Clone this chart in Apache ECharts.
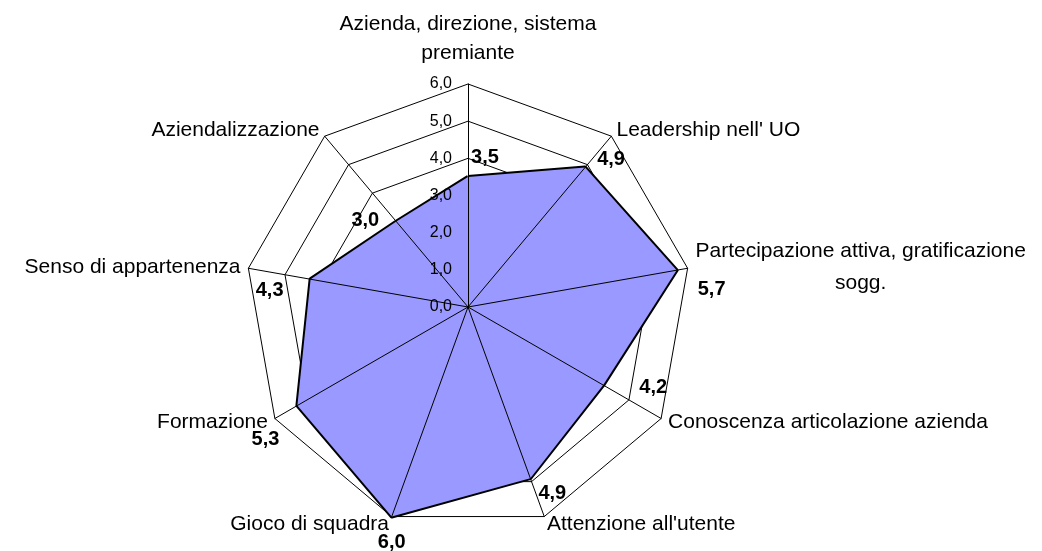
<!DOCTYPE html>
<html>
<head>
<meta charset="utf-8">
<script src="https://cdn.jsdelivr.net/npm/echarts@6/dist/echarts.min.js"></script>
<style>
html, body { margin: 0; padding: 0; background: #fff; }
#radar1 { width: 1042px; height: 551px; }
</style>
</head>
<body>
<div id="radar1"></div>
<script>
var categories = [
    'Azienda, direzione, sistema\npremiante',
    "Leadership nell' UO",
    'Partecipazione attiva, gratificazione\nsogg.',
    'Conoscenza articolazione azienda',
    "Attenzione all'utente",
    'Gioco di squadra',
    'Formazione',
    'Senso di appartenenza',
    'Aziendalizzazione'
];
var scores = [3.5, 4.9, 5.7, 4.2, 4.9, 6.0, 5.3, 4.3, 3.0];
var scaleMin = 0;
var scaleMax = 6;

// where each value label sits relative to its point (px)
var labelOffsets = [[17, -19], [26, -8], [35, 19], [50, 2], [22, 15], [0, 26], [-32, 34], [-41, 11], [-31, -1]];

var center = [468, 307];
var radius = 223;
var font = '"Liberation Sans", Arial, sans-serif';

function fmt(v) {
    return Number(v).toFixed(1).replace('.', ',');
}

// radar goes counterclockwise, the excel chart clockwise
var order = [0];
for (var k = categories.length - 1; k > 0; k--) order.push(k);

var dom = document.getElementById("radar1");
var myChart = echarts.init(dom);

var baseIndicators = order.map(function (i) {
    return { name: categories[i], min: scaleMin, max: scaleMax };
});
var topIndicators = order.map(function (i, n) {
    var ind = { name: categories[i], min: scaleMin, max: scaleMax };
    if (n === 0) ind.axisLabel = { show: true };
    return ind;
});

option = {
    backgroundColor: '#fff',
    radar: [{
        indicator: baseIndicators,
        center: center,
        radius: radius,
        startAngle: 90,
        splitNumber: 6,
        shape: 'polygon',
        nameGap: 8,
        axisName: {
            color: '#000',
            fontFamily: font,
            fontSize: 21,
            lineHeight: 31,
            formatter: function (name) {
                var lines = name.split('\n');
                if (lines.length === 1) return name;
                var isTop = name === categories[0];
                return lines.map(function (l, j) {
                    return '{' + (isTop ? (j === 0 ? 't' : 'p') : 'c') + '|' + l + '}';
                }).join('\n');
            },
            rich: {
                c: { align: 'center', fontSize: 21, lineHeight: 32, color: '#000', fontFamily: font },
                t: { align: 'center', fontSize: 21, lineHeight: 32, color: '#000', fontFamily: font, padding: [0, 0, 8, 0] },
                p: { align: 'center', fontSize: 21, lineHeight: 32, color: '#000', fontFamily: font, padding: [0, 0, 14, 0] }
            }
        },
        splitArea: { show: false },
        axisLine: { show: false },
        axisTick: { show: false },
        axisLabel: { show: false },
        splitLine: { lineStyle: { color: '#000', width: 1 } }
    }, {
        z: 5,
        indicator: topIndicators,
        center: center,
        radius: radius,
        startAngle: 90,
        splitNumber: 6,
        shape: 'polygon',
        axisName: { show: false },
        splitArea: { show: false },
        splitLine: { show: false },
        axisTick: { show: false },
        axisLine: { lineStyle: { color: '#000', width: 1 } },
        axisLabel: {
            show: false,
            color: '#000',
            fontFamily: font,
            fontSize: 16,
            margin: 16,
            formatter: fmt
        }
    }],
    polar: { center: center, radius: radius },
    angleAxis: {
        type: 'value', min: 0, max: categories.length,
        startAngle: 90, clockwise: true, show: false
    },
    radiusAxis: { type: 'value', min: scaleMin, max: scaleMax, show: false },
    series: [{
        type: 'radar',
        radarIndex: 0,
        symbol: 'none',
        silent: true,
        lineStyle: { color: '#000', width: 4 },
        areaStyle: { color: '#9999FF', opacity: 1 },
        data: [{ value: order.map(function (i) { return scores[i]; }) }]
    }, {
        type: 'scatter',
        coordinateSystem: 'polar',
        symbolSize: 0,
        silent: true,
        z: 10,
        itemStyle: { opacity: 1 },
        label: {
            show: true,
            position: 'inside',
            color: '#000',
            opacity: 1,
            textBorderWidth: 0,
            fontFamily: font,
            fontWeight: 'bold',
            fontSize: 20,
            formatter: function (p) { return fmt(p.value[0]); }
        },
        data: scores.map(function (v, i) {
            return { value: [v, i], label: { offset: labelOffsets[i] } };
        })
    }]
};
if (option && typeof option === "object") {
    myChart.setOption(option, true);
}
</script>
</body>
</html>
